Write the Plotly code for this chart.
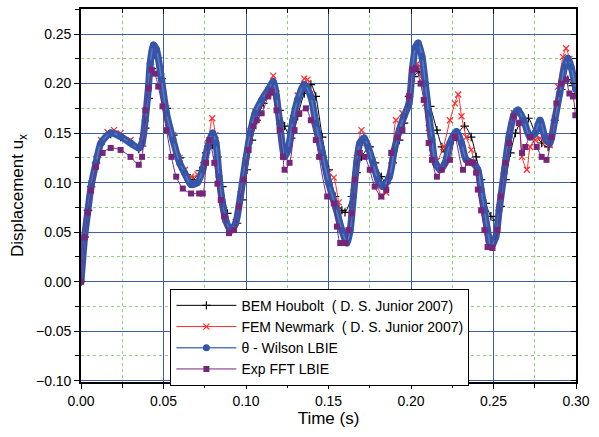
import plotly.graph_objects as go

# ---------------- data ----------------
houbolt_t = [0, 0.0022, 0.0042, 0.0061, 0.0091, 0.0121, 0.018, 0.024, 0.030, 0.035,
             0.037, 0.039, 0.041, 0.043, 0.0448, 0.0468, 0.049, 0.052, 0.056, 0.060,
             0.064, 0.0679, 0.072, 0.0758, 0.0798, 0.0827, 0.0857, 0.0887, 0.0912, 0.0946,
             0.0976, 0.1006, 0.1036, 0.1065, 0.1105, 0.1145, 0.1175, 0.1204, 0.1234, 0.1274,
             0.1313, 0.1353, 0.1393, 0.1423, 0.1462, 0.1502, 0.154, 0.1581, 0.160, 0.1641,
             0.167, 0.170, 0.175, 0.1782, 0.182, 0.185, 0.1889, 0.1929, 0.1958, 0.1988,
             0.2018, 0.2048, 0.2077, 0.2117, 0.2157, 0.2187, 0.2206, 0.2256, 0.2325, 0.2365,
             0.2395, 0.2425, 0.2454, 0.2484, 0.2514, 0.2543, 0.2573, 0.2603, 0.2633, 0.2673,
             0.2712, 0.2752, 0.2792, 0.2831, 0.2871, 0.2911, 0.295, 0.298, 0.300]
houbolt_u = [0, 0.045, 0.072, 0.096, 0.120, 0.139, 0.149, 0.146, 0.140, 0.134,
             0.137, 0.155, 0.185, 0.215, 0.232, 0.226, 0.205, 0.175, 0.148, 0.125,
             0.108, 0.103, 0.112, 0.130, 0.138, 0.126, 0.096, 0.069, 0.052, 0.059,
             0.0825, 0.113, 0.143, 0.163, 0.180, 0.1886, 0.190, 0.173, 0.157, 0.145,
             0.167, 0.190, 0.199, 0.187, 0.146, 0.113, 0.086, 0.072, 0.070, 0.086,
             0.110, 0.126, 0.136, 0.120, 0.106, 0.099, 0.120, 0.143, 0.160, 0.187,
             0.207, 0.212, 0.200, 0.177, 0.153, 0.136, 0.131, 0.143, 0.157, 0.146,
             0.126, 0.103, 0.079, 0.066, 0.062, 0.076, 0.103, 0.130, 0.150, 0.163,
             0.165, 0.150, 0.140, 0.136, 0.163, 0.194, 0.204, 0.198, 0.190]

newmark_t = [0, 0.0022, 0.0042, 0.0061, 0.0091, 0.0121, 0.016, 0.020, 0.024, 0.030,
             0.035, 0.037, 0.039, 0.041, 0.0425, 0.044, 0.046, 0.0488, 0.0518, 0.0558,
             0.0597, 0.063, 0.0667, 0.0706, 0.074, 0.077, 0.0795, 0.0815, 0.0837, 0.0857,
             0.0877, 0.0907, 0.0937, 0.0966, 0.0996, 0.1026, 0.1055, 0.1095, 0.1135, 0.1165,
             0.1185, 0.1204, 0.1234, 0.1254, 0.1284, 0.1313, 0.1353, 0.1373, 0.1393, 0.1423,
             0.1462, 0.1502, 0.1532, 0.1562, 0.1601, 0.1621, 0.1651, 0.1671, 0.170, 0.173,
             0.177, 0.1799, 0.182, 0.185, 0.1889, 0.1909, 0.1948, 0.1988, 0.2008, 0.2038,
             0.2067, 0.2087, 0.2107, 0.2127, 0.2157, 0.2196, 0.2236, 0.2266, 0.2286, 0.2306,
             0.2335, 0.2365, 0.2395, 0.2425, 0.2445, 0.2464, 0.2484, 0.2514, 0.2534, 0.2564,
             0.2594, 0.2623, 0.2649, 0.2673, 0.2702, 0.2722, 0.2752, 0.2782, 0.2812, 0.2841,
             0.2871, 0.2891, 0.2921, 0.294, 0.296, 0.2985, 0.300]
newmark_u = [0, 0.047, 0.075, 0.099, 0.124, 0.143, 0.151, 0.153, 0.150, 0.143,
             0.136, 0.142, 0.165, 0.198, 0.222, 0.237, 0.233, 0.207, 0.175, 0.148,
             0.125, 0.113, 0.106, 0.108, 0.118, 0.140, 0.165, 0.148, 0.108, 0.080,
             0.063, 0.053, 0.060, 0.088, 0.122, 0.152, 0.172, 0.178, 0.190, 0.208,
             0.190, 0.163, 0.128, 0.134, 0.165, 0.188, 0.205, 0.204, 0.190, 0.162,
             0.130, 0.110, 0.105, 0.080, 0.048, 0.050, 0.090, 0.125, 0.153, 0.140,
             0.118, 0.097, 0.086, 0.090, 0.130, 0.163, 0.170, 0.187, 0.205, 0.220,
             0.205, 0.180, 0.155, 0.130, 0.122, 0.136, 0.163, 0.180, 0.189, 0.167,
             0.146, 0.133, 0.113, 0.090, 0.070, 0.050, 0.037, 0.047, 0.075, 0.112,
             0.148, 0.170, 0.172, 0.126, 0.113, 0.136, 0.143, 0.145, 0.140, 0.138,
             0.165, 0.197, 0.227, 0.2357, 0.225, 0.205, 0.190]

wilson_t = [0, 0.0022, 0.0042, 0.0061, 0.0091, 0.0121, 0.018, 0.024, 0.030, 0.035,
            0.037, 0.0389, 0.0409, 0.0419, 0.0439, 0.0458, 0.0488, 0.0518, 0.0558, 0.0597,
            0.0627, 0.0667, 0.0706, 0.0738, 0.0768, 0.0798, 0.0818, 0.0837, 0.0857, 0.0877,
            0.0907, 0.0937, 0.0966, 0.0996, 0.1026, 0.1055, 0.1095, 0.1135, 0.1165, 0.1185,
            0.1204, 0.1234, 0.1254, 0.1284, 0.1313, 0.1353, 0.1393, 0.1423, 0.1462, 0.1502,
            0.1542, 0.1581, 0.1611, 0.1631, 0.1651, 0.1671, 0.1690, 0.1716, 0.1740, 0.1770,
            0.1799, 0.1829, 0.1869, 0.1899, 0.1929, 0.1958, 0.1988, 0.2008, 0.2028, 0.2044,
            0.2067, 0.2087, 0.2107, 0.2127, 0.2147, 0.2177, 0.2207, 0.2236, 0.2276, 0.2306,
            0.2335, 0.2375, 0.2405, 0.2425, 0.2445, 0.2464, 0.2484, 0.2514, 0.2534, 0.2564,
            0.2594, 0.2623, 0.2649, 0.2683, 0.2722, 0.2752, 0.2782, 0.2812, 0.2841, 0.2871,
            0.2901, 0.2931, 0.2950, 0.2970, 0.3000]
wilson_u = [0, 0.045, 0.072, 0.096, 0.120, 0.140, 0.150, 0.1465, 0.140, 0.135,
            0.140, 0.163, 0.197, 0.220, 0.239, 0.234, 0.204, 0.170, 0.143, 0.120,
            0.110, 0.098, 0.100, 0.113, 0.136, 0.150, 0.140, 0.106, 0.079, 0.062,
            0.052, 0.059, 0.086, 0.120, 0.150, 0.170, 0.1835, 0.194, 0.202, 0.187,
            0.160, 0.126, 0.133, 0.163, 0.1835, 0.199, 0.187, 0.160, 0.130, 0.099,
            0.076, 0.052, 0.039, 0.052, 0.086, 0.120, 0.140, 0.145, 0.136, 0.120,
            0.103, 0.096, 0.106, 0.133, 0.153, 0.167, 0.180, 0.214, 0.237, 0.241,
            0.227, 0.200, 0.170, 0.143, 0.120, 0.113, 0.120, 0.140, 0.1515, 0.140,
            0.123, 0.120, 0.113, 0.093, 0.072, 0.052, 0.035, 0.045, 0.072, 0.1095,
            0.146, 0.168, 0.1734, 0.163, 0.146, 0.150, 0.163, 0.146, 0.140, 0.163,
            0.190, 0.217, 0.2256, 0.217, 0.194]

fft_t = [0, 0.0022, 0.0042, 0.0061, 0.0091, 0.0131, 0.018, 0.024, 0.030, 0.035,
         0.037, 0.039, 0.041, 0.0429, 0.0448, 0.0468, 0.0494, 0.0518, 0.0548, 0.0577,
         0.0617, 0.0667, 0.0716, 0.0738, 0.0758, 0.0778, 0.0808, 0.0827, 0.0847, 0.0867,
         0.0897, 0.0927, 0.0957, 0.0986, 0.1016, 0.1046, 0.1065, 0.1095, 0.1135, 0.1155,
         0.1185, 0.1204, 0.1224, 0.1234, 0.1264, 0.1294, 0.1323, 0.1363, 0.1393, 0.1423,
         0.1443, 0.1492, 0.1532, 0.1551, 0.1571, 0.1601, 0.1621, 0.1641, 0.166, 0.169,
         0.172, 0.175, 0.178, 0.182, 0.185, 0.188, 0.192, 0.1948, 0.1988, 0.2008,
         0.2028, 0.2058, 0.2077, 0.2107, 0.2127, 0.2157, 0.2187, 0.2236, 0.2266, 0.2315,
         0.2345, 0.2375, 0.2395, 0.2405, 0.2425, 0.2445, 0.2464, 0.2494, 0.2524, 0.2543,
         0.2573, 0.2594, 0.2623, 0.2653, 0.2673, 0.2692, 0.2722, 0.2762, 0.2792, 0.2821,
         0.2851, 0.2881, 0.2911, 0.294, 0.296, 0.2981, 0.2996]
fft_u = [0, 0.045, 0.070, 0.092, 0.116, 0.130, 0.135, 0.133, 0.126, 0.118,
         0.126, 0.173, 0.195, 0.214, 0.210, 0.197, 0.177, 0.153, 0.126, 0.106,
         0.094, 0.089, 0.089, 0.089, 0.120, 0.143, 0.120, 0.099, 0.0825, 0.066,
         0.049, 0.052, 0.076, 0.103, 0.133, 0.157, 0.163, 0.170, 0.187, 0.192,
         0.173, 0.153, 0.126, 0.113, 0.120, 0.153, 0.170, 0.175, 0.163, 0.143,
         0.126, 0.086, 0.079, 0.0556, 0.039, 0.039, 0.052, 0.069, 0.103, 0.130,
         0.126, 0.113, 0.096, 0.086, 0.0926, 0.130, 0.146, 0.153, 0.187, 0.214,
         0.2155, 0.200, 0.1835, 0.140, 0.123, 0.106, 0.113, 0.123, 0.146, 0.113,
         0.120, 0.120, 0.110, 0.093, 0.072, 0.052, 0.035, 0.034, 0.052, 0.086,
         0.120, 0.140, 0.167, 0.160, 0.130, 0.136, 0.146, 0.136, 0.126, 0.123,
         0.146, 0.180, 0.200, 0.204, 0.190, 0.187, 0.168]

names = ["BEM Houbolt\u00a0\u00a0( D. S. Junior 2007)",
         "FEM Newmark\u00a0\u00a0( D. S. Junior 2007)",
         "\u03b8 - Wilson LBIE",
         "Exp FFT LBIE"]

x_ticks = [0.00, 0.05, 0.10, 0.15, 0.20, 0.25, 0.30]
y_ticks = [-0.10, -0.05, 0.00, 0.05, 0.10, 0.15, 0.20, 0.25]

for a, b in [(houbolt_t, houbolt_u), (newmark_t, newmark_u), (wilson_t, wilson_u), (fft_t, fft_u)]:
    assert len(a) == len(b), (len(a), len(b))

# ---------------- figure ----------------
BLUE = "#3556A8"
PURPLE = "#76267A"
RED = "#FF2A2A"
FONT = "Liberation Sans"
SM = 0.7

fig = go.Figure()
fig.add_trace(go.Scatter(x=houbolt_t, y=houbolt_u, name=names[0], mode="lines+markers",
                         line=dict(color="black", width=1, shape="spline", smoothing=SM),
                         marker=dict(symbol="cross-thin-open", size=6, color="black",
                                     line=dict(width=1.2, color="black"))))
fig.add_trace(go.Scatter(x=newmark_t, y=newmark_u, name=names[1], mode="lines+markers",
                         line=dict(color=RED, width=1, shape="spline", smoothing=SM),
                         marker=dict(symbol="x-thin-open", size=6, color=RED,
                                     line=dict(width=1.2, color=RED))))
# thick band of the dense theta-Wilson markers
fig.add_trace(go.Scatter(x=wilson_t, y=wilson_u, mode="lines", showlegend=False,
                         hoverinfo="skip",
                         line=dict(color=BLUE, width=7, shape="spline", smoothing=SM)))
fig.add_trace(go.Scatter(x=wilson_t, y=wilson_u, name=names[2], mode="lines+markers",
                         line=dict(color="#5A78C0", width=1.5, shape="spline", smoothing=SM),
                         marker=dict(symbol="circle", size=7, color=BLUE)))
fig.add_trace(go.Scatter(x=fft_t, y=fft_u, name=names[3], mode="lines+markers",
                         line=dict(color=PURPLE, width=1, shape="spline", smoothing=SM),
                         marker=dict(symbol="square", size=6, color=PURPLE)))
# helper trace to activate the mirrored top/right axes
fig.add_trace(go.Scatter(x=[None], y=[None], xaxis="x2", yaxis="y2", showlegend=False,
                         hoverinfo="skip"))

XR = [0, 0.30]
YR = [-0.1013, 0.2753]

fig.update_layout(
    width=599, height=437,
    margin=dict(l=81, r=14, t=9, b=55),
    paper_bgcolor="white", plot_bgcolor="white",
    font=dict(family=FONT, size=13, color="black"),
    xaxis=dict(range=XR, tickvals=x_ticks, tickformat=".2f",
               showgrid=True, gridcolor="#3F5CA8", gridwidth=1,
               ticks="outside", ticklen=5, tickwidth=1.2, tickcolor="black",
               showline=True, linecolor="black", linewidth=1.6,
               zeroline=False,
               minor=dict(dtick=0.025, tick0=0, showgrid=True, gridcolor="#8FD27A",
                          griddash="dot", gridwidth=1, ticks="outside", ticklen=4,
                          tickcolor="black"),
               title=dict(text="Time (s)", font=dict(size=17, family=FONT), standoff=1),
               tickfont=dict(size=14, family=FONT)),
    yaxis=dict(range=YR, tickvals=y_ticks, tickformat=".2f",
               showgrid=True, gridcolor="#3F5CA8", gridwidth=1,
               ticks="outside", ticklen=5, tickwidth=1.2, tickcolor="black",
               showline=True, linecolor="black", linewidth=1.6,
               zeroline=False,
               minor=dict(dtick=0.025, tick0=0, showgrid=True, gridcolor="#8FD27A",
                          griddash="dot", gridwidth=1, ticks="outside", ticklen=4,
                          tickcolor="black"),
               title=dict(text="Displacement u<sub>x</sub>", font=dict(size=17, family=FONT),
                          standoff=8),
               tickfont=dict(size=14, family=FONT)),
    xaxis2=dict(range=XR, overlaying="x", side="top", anchor="y2",
                tickvals=x_ticks, showticklabels=False, showgrid=False, zeroline=False,
                ticks="inside", ticklen=5, tickcolor="black",
                minor=dict(dtick=0.025, tick0=0, ticks="inside", ticklen=4, tickcolor="black"),
                showline=True, linecolor="black", linewidth=1.6),
    yaxis2=dict(range=YR, overlaying="y", side="right", anchor="x2",
                tickvals=y_ticks, showticklabels=False, showgrid=False, zeroline=False,
                ticks="inside", ticklen=5, tickcolor="black",
                minor=dict(dtick=0.025, tick0=0, ticks="inside", ticklen=4, tickcolor="black"),
                showline=True, linecolor="black", linewidth=1.6),
    legend=dict(x=0.1806, y=0.25, xanchor="left", yanchor="top",
                bgcolor="white", bordercolor="black", borderwidth=1,
                font=dict(size=14, family=FONT), itemwidth=60,
                tracegroupgap=0),
    showlegend=True,
)

fig.write_html("out.html")
